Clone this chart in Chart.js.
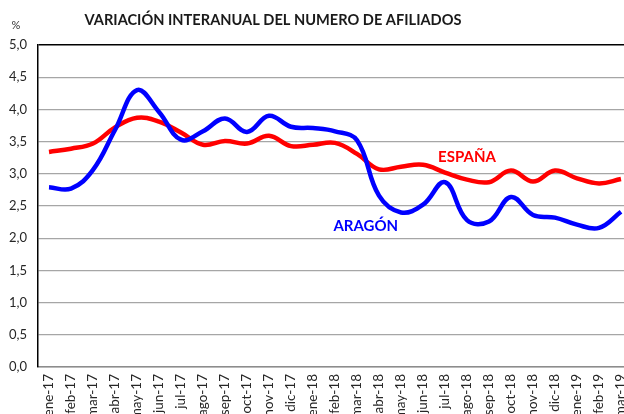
<!DOCTYPE html>
<html>
<head>
<meta charset="utf-8">
<script src="https://cdn.jsdelivr.net/npm/chart.js@4"></script>
<style>
  html, body { margin: 0; padding: 0; background: #fff; overflow: hidden; }
  #wrap { position: absolute; left: 0; top: 0; width: 624px; height: 414px; overflow: hidden; }
</style>
</head>
<body>
<div id="wrap"><canvas id="myChart" width="634" height="427"></canvas></div>
<script>
// meses (ene-17 .. mar-19)
const meses = ['ene-17','feb-17','mar-17','abr-17','may-17','jun-17','jul-17','ago-17','sep-17','oct-17','nov-17','dic-17',
  'ene-18','feb-18','mar-18','abr-18','may-18','jun-18','jul-18','ago-18','sep-18','oct-18','nov-18','dic-18',
  'ene-19','feb-19','mar-19'];

// variacion interanual (%)
const espana = [3.34, 3.39, 3.47, 3.72, 3.87, 3.81, 3.64, 3.45, 3.51, 3.47, 3.59, 3.43,
  3.45, 3.48, 3.31, 3.07, 3.11, 3.14, 3.02, 2.91, 2.87, 3.05, 2.88, 3.05,
  2.93, 2.85, 2.92];
const aragon = [2.79, 2.77, 3.06, 3.68, 4.30, 3.96, 3.53, 3.66, 3.86, 3.65, 3.90, 3.73,
  3.71, 3.66, 3.52, 2.66, 2.40, 2.52, 2.87, 2.28, 2.26, 2.64, 2.36, 2.32,
  2.21, 2.16, 2.41];

const yTicks = [0, 0.5, 1, 1.5, 2, 2.5, 3, 3.5, 4, 4.5, 5];

const FONT = 'Lato, "Open Sans", sans-serif';

// textos: titulo, unidad y nombre de cada serie
const textos = {
  id: 'textos',
  afterDraw(chart) {
    const c = chart.ctx;
    const x = chart.scales.x, y = chart.scales.y;
    c.save();
    c.textAlign = 'center';
    c.textBaseline = 'middle';
    c.fillStyle = '#1a1a1a';
    c.font = 'bold 16px ' + FONT;
    c.fillText('VARIACIÓN INTERANUAL DEL NUMERO DE AFILIADOS', 273, 20, 377);
    c.font = '11px ' + FONT;
    c.fillStyle = '#333';
    c.fillText('%', 16, 25);
    c.font = 'bold 15px ' + FONT;
    c.fillStyle = '#ff0000';
    c.fillText('ESPAÑA', x.getPixelForValue(19.0), y.getPixelForValue(3.26));
    c.fillStyle = '#0000ff';
    c.fillText('ARAGÓN', x.getPixelForValue(14.4), y.getPixelForValue(2.19));
    c.restore();
  }
};

const data = {
  labels: meses,
  datasets: [
    {
      label: 'ESPAÑA',
      data: espana,
      borderColor: '#ff0000',
      backgroundColor: '#ff0000',
      borderWidth: 4.5,
      pointRadius: 0,
      tension: 0.4,
      order: 2
    },
    {
      label: 'ARAGÓN',
      data: aragon,
      borderColor: '#0000ff',
      backgroundColor: '#0000ff',
      borderWidth: 4.5,
      pointRadius: 0,
      tension: 0.4,
      order: 1
    }
  ]
};

const config = {
  type: 'line',
  data: data,
  plugins: [textos],
  options: {
    responsive: false,
    animation: false,
    devicePixelRatio: 1,
    layout: { padding: { top: 45, left: 0, right: 2, bottom: 0 } },
    plugins: {
      legend: { display: false },
      title: { display: false },
      tooltip: { enabled: false }
    },
    scales: {
      x: {
        offset: true,
        grid: { display: false, drawTicks: false },
        border: { display: true, color: '#8c8c8c', width: 1.5 },
        ticks: {
          autoSkip: false,
          maxRotation: 90,
          minRotation: 90,
          padding: 7,
          color: '#262626',
          font: { family: FONT, size: 13.5 }
        },
        afterFit(scale) {
          scale.height = 60;
          scale.paddingLeft = 0;
          scale.paddingRight = 0;
        }
      },
      y: {
        min: 0,
        max: 5,
        afterBuildTicks(scale) { scale.ticks = yTicks.map(v => ({ value: v })); },
        grid: {
          drawTicks: false,
          color: ctx => ctx.tick && ctx.tick.value === 5 ? '#000' : '#a6a6a6',
          lineWidth: ctx => ctx.tick && ctx.tick.value === 5 ? 1.5 : 1.2
        },
        border: { display: true, color: '#000', width: 1.5 },
        ticks: {
          padding: 11,
          color: '#262626',
          font: { family: FONT, size: 13 },
          callback: v => v.toFixed(1).replace('.', ',')
        },
        afterFit(scale) { scale.width = 38; }
      }
    }
  }
};

const ctx = document.getElementById('myChart');
new Chart(ctx, config);
</script>
</body>
</html>
